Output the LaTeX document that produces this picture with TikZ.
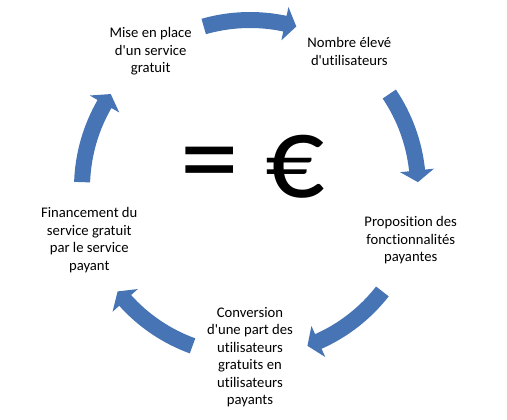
\documentclass[tikz,border=0pt]{standalone}
\usepackage{fontspec}
\setmainfont{Carlito}[Ligatures=NoCommon]
\usepackage{tikz}
\usepackage{color}

\definecolor{cycleblue}{RGB}{70,116,180}

% block arrow on the cycle, centred on angle #1, running clockwise
\newcommand{\cyclearrow}[1]{%
  \fill [color=cycleblue] (#1+16:160) arc [start angle=#1+16, end angle=#1-12, radius=160]
    -- (#1-12:151) -- (#1-16:168) -- (#1-12:185) -- (#1-12:176)
    arc [start angle=#1-12, end angle=#1+16, radius=176] -- cycle;}

\begin{document}
\begin{tikzpicture}[%
      x=0.75pt, y=0.75pt,
      cycletext/.style={align=center, font=\fontsize{11}{13.1}\selectfont},
      ]
      \useasboundingbox (0,0) rectangle (507,419);
      \begin{scope}[shift={(250,231)}]
      \cyclearrow{90}
      \cyclearrow{18}
      \cyclearrow{-54}
      \cyclearrow{-126}
      \cyclearrow{162}

      \node [cycletext] (mise) at (126:169) {Mise en place\\d\textquotesingle un service\\gratuit};
      \node [cycletext] (nombre) at (54:169) {Nombre élevé\\d\textquotesingle utilisateurs};
      \node [cycletext] (proposition) at (-18:169) {Proposition des\\fonctionnalités\\payantes};
      \node [cycletext] (conversion) at (-90:169) {Conversion\\d\textquotesingle une part des\\utilisateurs\\gratuits en\\utilisateurs\\payants};
      \node [cycletext] (financement) at (198:169) {Financement du\\service gratuit\\par le service\\payant};

      \node [font=\fontsize{88}{88}\selectfont] (euro) at (3,21) {= €};
      \end{scope}
\end{tikzpicture}
\end{document}
